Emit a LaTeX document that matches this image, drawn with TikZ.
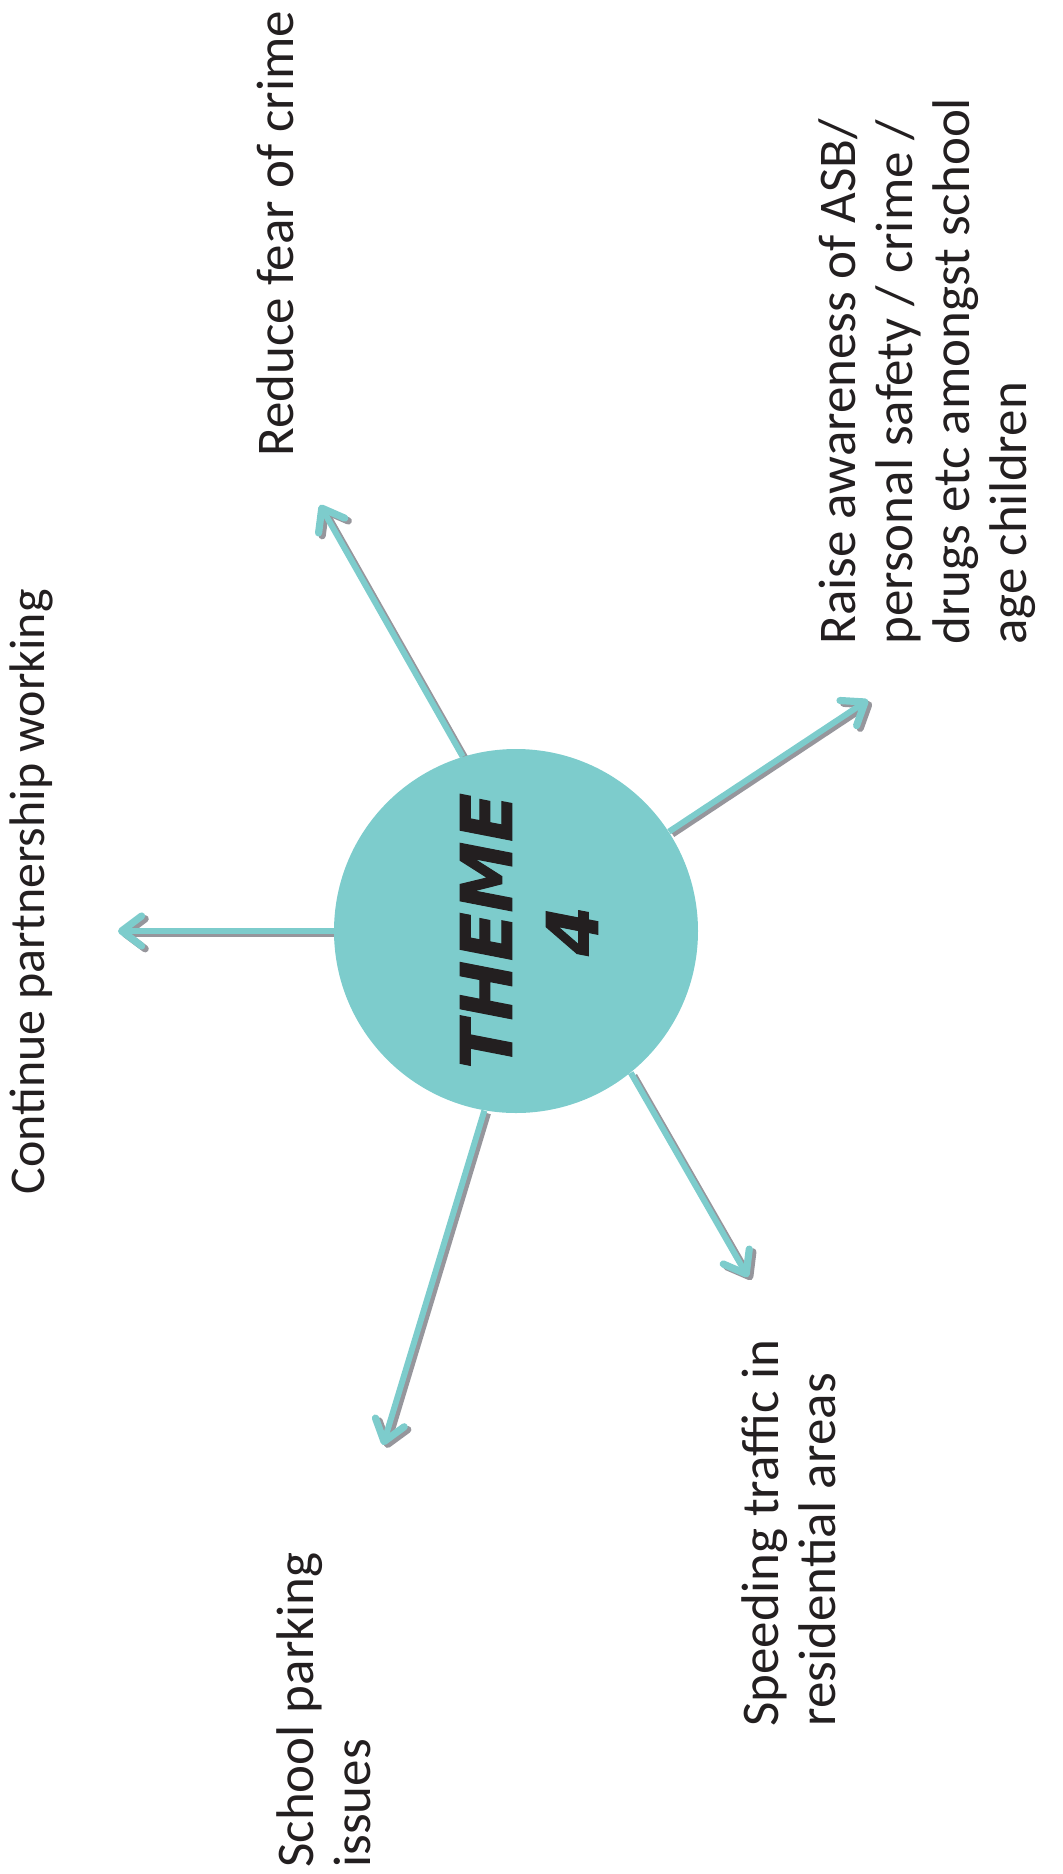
\documentclass[tikz,border=0pt]{standalone}
\usepackage{fontspec}
\setmainfont{Carlito}
\newfontfamily\themefont[FakeBold=1.5]{DejaVu Sans}
\usetikzlibrary{arrows.meta,backgrounds}
\definecolor{teal4}{RGB}{125,204,204}
\definecolor{shade4}{RGB}{150,150,156}
\definecolor{ink}{RGB}{35,31,32}
\begin{document}
\begin{tikzpicture}[x=0.5pt,y=-0.5pt,
  lbl/.style={rotate=90, inner sep=0pt, text=ink, font=\fontsize{26.5}{28.5}\selectfont},
  tip4/.style={-{Straight Barb[length=10pt,width=15pt,line width=3.6pt,round]}},
  arr/.style={draw=teal4, line width=3pt, tip4},
  arrshadow/.style={draw=shade4, line width=3pt, tip4, transform canvas={shift={(1.8pt,-1.4pt)}}},
  hub/.style={circle, fill=teal4, minimum size=182pt, inner sep=0pt},
  themetext/.style={rotate=90, align=center, inner sep=0pt, text=ink, font=\themefont\bfseries\itshape\fontsize{35.5}{43}\selectfont}
]
\useasboundingbox (0,0) rectangle (1062,1874);
\node[hub] (c) at (516,931) {};
\node[themetext] (th) at (529,931) {THEME\\4};

\coordinate (t1) at (320,505);
\coordinate (t2) at (118,931);
\coordinate (t3) at (868,700);
\coordinate (t4) at (748,1277);
\coordinate (t5) at (383,1445);

\begin{pgfonlayer}{background}
\draw[arrshadow] (c.107) -- (t1);
\draw[arrshadow] (c.180) -- (t2);
\draw[arrshadow] (c.33) -- (t3);
\draw[arrshadow] (c.-51) -- (t4);
\draw[arrshadow] (c.-100) -- (t5);
\draw[arr] (c.107) -- (t1);
\draw[arr] (c.180) -- (t2);
\draw[arr] (c.33) -- (t3);
\draw[arr] (c.-51) -- (t4);
\draw[arr] (c.-100) -- (t5);
\end{pgfonlayer}

\node[lbl, anchor=base west] (reduce) at (293,457) {Reduce fear of crime};
\node[lbl, anchor=base west, font=\fontsize{25}{28.5}\selectfont] (cont) at (44,1195) {Continue partnership working};
\node[lbl, align=left, anchor=north west] (raise) at (818,645) {Raise awareness of ASB/\\personal safety / crime /\\drugs etc amongst school\\age children};
\node[lbl, align=left, anchor=north west] (speed) at (741,1727) {Speeding traffic in\\residential areas};
\node[lbl, align=left, anchor=north west] (school) at (276,1868) {School parking\\issues};
\end{tikzpicture}
\end{document}
